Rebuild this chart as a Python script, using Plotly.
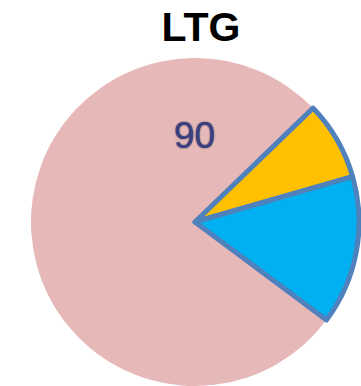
import plotly.graph_objects as go

# Share of LTG by segment (clockwise, starting from the large slice)
labels = ["Segment A", "Segment B", "Segment C"]
values = [90, 9, 17]
colors = ["#E6B8B7", "#FFC000", "#00B0F0"]
edge_colors = ["rgba(0,0,0,0)", "#4F81BD", "#4F81BD"]
edge_widths = [0, 5, 5]
title_text = "LTG"

W, H = 361, 386

# start angle of the large slice, so that the small slices sit at the right
start_angle = 126.7

fig = go.Figure(
    go.Pie(
        labels=labels,
        values=values,
        sort=False,
        direction="clockwise",
        rotation=start_angle,
        marker=dict(colors=colors, line=dict(color=edge_colors, width=edge_widths)),
        textinfo="none",
        hoverinfo="label+value",
        showlegend=False,
        domain=dict(x=[31 / W, 359 / W], y=[0, 328 / H]),
    )
)

# value label for the large slice
fig.add_annotation(
    x=195 / W, y=1 - 136 / H, xref="paper", yref="paper",
    text=str(values[0]), showarrow=False,
    font=dict(family="Liberation Sans, Arial, sans-serif", size=37, color="#3A4080",
              shadow="0px 0px 1.5px #1C1F4A"),
    xanchor="center", yanchor="middle",
)

fig.update_layout(
    width=W, height=H,
    margin=dict(l=0, r=0, t=0, b=0),
    paper_bgcolor="white",
    plot_bgcolor="white",
    title=dict(
        text="<b>" + title_text + "</b>",
        x=201 / W, xref="container", xanchor="center",
        y=1 - 27 / H, yref="container", yanchor="middle",
        font=dict(family="Liberation Sans, Arial, sans-serif", size=41, color="black"),
    ),
)

fig.write_html("out.html")
